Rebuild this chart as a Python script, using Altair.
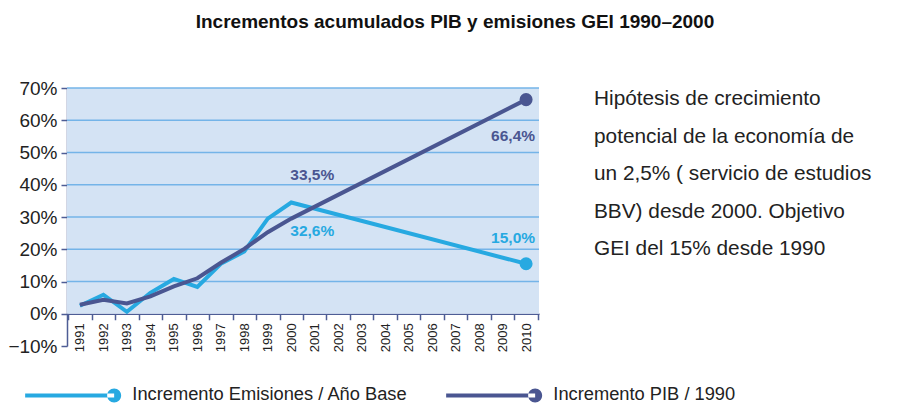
import altair as alt
import pandas as pd

# ---- data (percent) ----
all_years = [str(y) for y in range(1991, 2011)]
data_years = ["1991", "1992", "1993", "1994", "1995", "1996", "1997", "1998", "1999", "2000", "2010"]
emisiones = [2.5, 5.9, 0.6, 6.5, 10.8, 8.3, 15.5, 19.3, 29.5, 34.5, 15.5]
pib = [2.8, 4.3, 3.2, 5.4, 8.5, 11.0, 15.8, 20.1, 25.3, 29.5, 66.4]
series = ["Incremento Emisiones / Año Base", "Incremento PIB / 1990"]
colors = ["#27a9e1", "#4a5691"]
grid_values = [10, 20, 30, 40, 50, 60, 70]
y_ticks = [-10, 0, 10, 20, 30, 40, 50, 60, 70]

labels_emis = ["32,6%", "15,0%"]
labels_pib = ["33,5%", "66,4%"]
label_years = ["2000", "2010"]

note = ["Hipótesis de crecimiento", "potencial de la economía de",
        "un 2,5% ( servicio de estudios", "BBV) desde 2000. Objetivo",
        "GEI del 15% desde 1990"]

rows = []
for y, v in zip(data_years, emisiones):
    rows.append({"year": y, "value": v / 100, "serie": series[0]})
for y, v in zip(data_years, pib):
    rows.append({"year": y, "value": v / 100, "serie": series[1]})
df = pd.DataFrame(rows)

W, H = 472, 258
FONT = "Liberation Sans"
AXC = "#4e5d95"

xscale = alt.Scale(type="band", domain=all_years, paddingInner=0, paddingOuter=0.05)
yscale = alt.Scale(domain=[-0.10, 0.70], nice=False, zero=False)
cscale = alt.Scale(domain=series, range=colors)

xaxis = alt.Axis(labelAngle=270, labelFontSize=13, labelColor="#222",
                 domainColor=AXC, tickColor=AXC, tickBand="extent",
                 tickSize=6, offset=-32.25, labelPadding=3, domainWidth=1.5, tickWidth=1.5)
yaxis = alt.Axis(values=[v / 100 for v in y_ticks], format=".0%", grid=False,
                 labelOverlap=False, labelFlush=False,
                 labelFontSize=19, labelColor="#222", domainColor=AXC,
                 tickColor=AXC, tickSize=6, labelPadding=4, domainWidth=1.5, tickWidth=1.5)
legend = alt.Legend(orient="none", legendX=38, legendY=298, direction="horizontal",
                    symbolType="M-17.8,-0.4 L0,-0.4 L0,0.4 L-17.8,0.4 Z M-1.4,0 A1.4,1.4 0 1,0 1.4,0 A1.4,1.4 0 1,0 -1.4,0 Z",
                    symbolSize=100, symbolStrokeWidth=0, symbolOpacity=1,
                    labelFontSize=18.3, labelColor="#222", labelOffset=9,
                    columnPadding=38, padding=0, labelLimit=400)

Y = lambda f: alt.Y(f, scale=yscale, title=None, axis=yaxis)
X = lambda f: alt.X(f, scale=xscale, title=None, axis=xaxis)

base = alt.Chart(df)

bg = alt.Chart(pd.DataFrame({"a": [0]})).mark_rect(color="#d4e3f4").encode(
    x=alt.value(0), x2=alt.value(W),
    y=alt.datum(0, scale=yscale, axis=yaxis, title=None), y2=alt.datum(0.70),
)

grid = alt.Chart(pd.DataFrame({"g": [g / 100 for g in grid_values]})).mark_rule(
    color="#74b4e8", strokeWidth=1.3).encode(
    y=Y("g:Q"), x=alt.value(0), x2=alt.value(W),
)

lines = base.mark_line(strokeWidth=4, strokeJoin="miter").encode(
    x=X("year:O"), y=Y("value:Q"),
    color=alt.Color("serie:N", scale=cscale, title=None, legend=legend),
)

points = base.transform_filter(alt.datum.year == "2010").mark_point(
    filled=True, size=170, opacity=1).encode(
    x=X("year:O"), y=Y("value:Q"),
    color=alt.Color("serie:N", scale=cscale, title=None, legend=legend),
)

lab_df_e = pd.DataFrame({"year": label_years, "value": [emisiones[9] / 100, emisiones[10] / 100], "t": labels_emis})
lab_df_p = pd.DataFrame({"year": label_years, "value": [pib[9] / 100, pib[10] / 100], "t": labels_pib})

def lab(dfl, yr, dx, dy, color):
    return alt.Chart(dfl).transform_filter(alt.datum.year == yr).mark_text(
        fontWeight="bold", fontSize=15.5, color=color, dx=dx, dy=dy, align="center", baseline="middle"
    ).encode(x=X("year:O"), y=Y("value:Q"), text="t:N")

labels = [
    lab(lab_df_e, "2000", 21, 29, colors[0]),
    lab(lab_df_e, "2010", -13, -26, colors[0]),
    lab(lab_df_p, "2000", 21, -44, colors[1]),
    lab(lab_df_p, "2010", -13, 36, colors[1]),
]

note_text = alt.Chart(pd.DataFrame({"t": ["\n".join(note)]})).mark_text(
    align="left", baseline="alphabetic", fontSize=20.8, lineHeight=37.5, color="#222", lineBreak="\n"
).encode(x=alt.value(527), y=alt.value(17), text="t:N")

chart = alt.layer(bg, grid, lines, points, *labels, note_text).properties(
    width=W, height=H,
    title=alt.TitleParams("Incrementos acumulados PIB y emisiones GEI 1990–2000",
                          anchor="middle", frame="group", dx=152, offset=47,
                          fontSize=19, fontWeight="bold", color="#111", font=FONT),
    autosize=alt.AutoSizeParams(type="none"),
    padding={"left": 59, "top": 80, "right": 362, "bottom": 58},
).configure(font=FONT).configure_view(strokeWidth=0).configure_axis(
    labelFont=FONT, labelOverlap=False
).configure_legend(labelFont=FONT)

chart.save("out.html", embed_options={"renderer": "svg", "actions": False})
